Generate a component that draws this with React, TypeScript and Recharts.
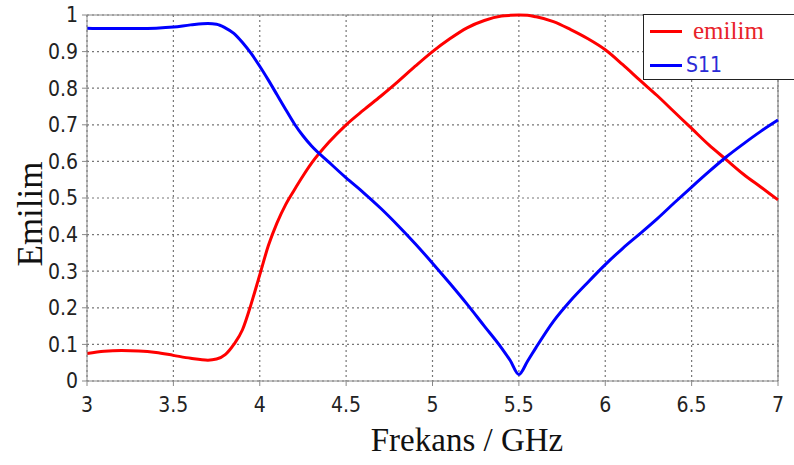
import React from "react";
import { LineChart, Line, XAxis, YAxis, CartesianGrid, ReferenceLine } from "recharts";

const freqs = [3.0,3.1,3.2,3.3,3.4,3.5,3.6,3.7,3.75,3.8,3.85,3.9,3.95,4.0,4.05,4.1,4.15,4.2,4.25,4.3,4.4,4.5,4.6,4.7,4.8,4.9,5.0,5.1,5.2,5.3,5.4,5.45,5.5,5.55,5.6,5.7,5.8,5.9,6.0,6.1,6.2,6.3,6.4,6.5,6.6,6.7,6.8,6.9,7.0];
const emilim = [0.075,0.081,0.083,0.082,0.078,0.07,0.062,0.057,0.06,0.072,0.1,0.14,0.21,0.29,0.37,0.432,0.482,0.522,0.56,0.595,0.652,0.70,0.74,0.778,0.818,0.86,0.90,0.935,0.965,0.985,0.997,0.999,1.0,0.999,0.995,0.982,0.96,0.935,0.905,0.865,0.822,0.78,0.735,0.69,0.645,0.605,0.565,0.53,0.495];
const s11 = [0.964,0.963,0.963,0.963,0.964,0.967,0.973,0.977,0.975,0.965,0.95,0.925,0.895,0.86,0.822,0.782,0.742,0.703,0.67,0.642,0.598,0.555,0.515,0.472,0.425,0.375,0.322,0.267,0.21,0.15,0.09,0.056,0.018,0.054,0.092,0.163,0.22,0.27,0.318,0.362,0.402,0.443,0.487,0.53,0.572,0.612,0.648,0.682,0.713];
const xTicks = [3,3.5,4,4.5,5,5.5,6,6.5,7];
const yTicks = [0,0.1,0.2,0.3,0.4,0.5,0.6,0.7,0.8,0.9,1];

const data = freqs.map((f, i) => ({ f, emilim: emilim[i], s11: s11[i] }));

const tickStyle = { fontFamily: "'DejaVu Sans Condensed', 'DejaVu Sans', sans-serif", fontSize: 21, fill: "#222" };
const serif = "'Liberation Serif', 'Times New Roman', serif";

const XLabel = () => (
  <text x={467} y={440} textAnchor="middle" dominantBaseline="central" fontFamily={serif} fontSize={33} fill="#111">
    Frekans / GHz
  </text>
);

const YLabel = () => (
  <text transform="translate(30,214) rotate(-90)" textAnchor="middle" dominantBaseline="central" fontFamily={serif} fontSize={35} fill="#111">
    Emilim
  </text>
);

const LegendBox = () => (
  <div style={{ position: "absolute", left: 643, top: 14, width: 160, height: 66, border: "1.5px solid #222", background: "#fff", boxSizing: "border-box" }}>
    <div style={{ position: "absolute", left: 6, top: 15, width: 32, height: 3, background: "#ff0000" }} />
    <div style={{ position: "absolute", left: 49, top: 2, fontFamily: serif, fontSize: 25, color: "#e8232a", lineHeight: "28px" }}>emilim</div>
    <div style={{ position: "absolute", left: 6, top: 49, width: 32, height: 3, background: "#0000ff" }} />
    <div style={{ position: "absolute", left: 42, top: 37, fontFamily: "'DejaVu Sans Condensed', 'DejaVu Sans', sans-serif", fontSize: 21, color: "#2b2bd6", lineHeight: "26px" }}>S11</div>
  </div>
);

export default function App() {
  return (
    <div style={{ position: "relative", width: 794, height: 465, background: "#fff", overflow: "hidden" }}>
      <style>{"body{margin:0;}"}</style>
      <LineChart width={794} height={465} data={data} margin={{ top: 15, right: 16, bottom: 0, left: 0 }}>
        <CartesianGrid stroke="#777" strokeDasharray="2 3" strokeWidth={1.2} />
        <XAxis
          dataKey="f"
          type="number"
          domain={[3, 7]}
          ticks={xTicks}
          height={84}
          stroke="#888"
          tickSize={5}
          tick={{ ...tickStyle, dy: 9 }}
          tickFormatter={(v) => String(v)}
          label={<XLabel />}
        />
        <YAxis
          type="number"
          domain={[0, 1]}
          ticks={yTicks}
          width={87}
          stroke="#888"
          tickSize={5}
          tick={{ ...tickStyle, dx: -2 }}
          tickFormatter={(v) => String(v)}
          label={<YLabel />}
        />
        <ReferenceLine y={1} stroke="#888" strokeWidth={1.2} />
        <ReferenceLine x={7} stroke="#888" strokeWidth={1.2} />
        <Line type="monotone" dataKey="emilim" stroke="#ff0000" strokeWidth={3} dot={false} isAnimationActive={false} />
        <Line type="monotone" dataKey="s11" stroke="#0000ff" strokeWidth={3} dot={false} isAnimationActive={false} />
      </LineChart>
      <LegendBox />
    </div>
  );
}
